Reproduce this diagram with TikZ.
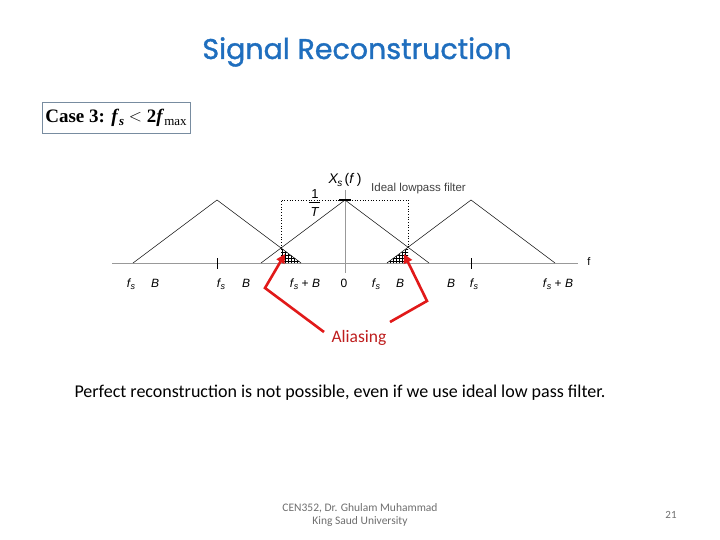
\documentclass[tikz,border=0pt]{standalone}
\usepackage{fontspec}
\setmainfont{Carlito}
\newfontfamily\titlefont{Poppins}[FakeBold=1.3]
\newfontfamily\timesfont{Liberation Serif}
\newfontfamily\helv{Liberation Sans}
\usetikzlibrary{arrows.meta,patterns}
\definecolor{titleblue}{RGB}{31,110,190}
\definecolor{aliasred}{RGB}{190,30,30}
\definecolor{arrowred}{RGB}{225,25,25}
\definecolor{boxedge}{RGB}{120,140,160}
\definecolor{footgray}{RGB}{110,110,110}
\tikzset{
  spec/.style={black, line width=0.5pt},
  axisline/.style={gray!80, line width=0.6pt},
  lab/.style={font=\helv\fontsize{12}{13}\selectfont, inner sep=0pt},
  filt/.style={black, dotted, line width=0.7pt},
  hatch/.style={pattern=grid, pattern color=black},
  redarrow/.style={arrowred, line width=2.6pt, line join=miter, -{Triangle[length=9pt,width=9pt]}},
}
\newcommand{\fsx}{\textit{f}\kern-0.5pt\raisebox{-0.35ex}{\fontsize{9}{9}\selectfont\textit{s}}}
\begin{document}
\begin{tikzpicture}[x=1pt,y=-1pt]
\useasboundingbox (0,0) rectangle (720,540);
% title
\node[font=\titlefont\fontsize{28.5}{32}\selectfont, text=titleblue] (title) at (357,52) {Signal Reconstruction};
% case box
\node[draw=boxedge, line width=0.8pt, minimum width=148pt, minimum height=31pt, inner sep=2pt, font=\timesfont\bfseries\fontsize{19}{21}\selectfont] (case) at (116,118)
  {Case 3: \textit{f}\raisebox{-0.3ex}{\fontsize{13}{13}\selectfont\textit{s}} \raisebox{0.1ex}{$<$} 2\textit{f}\raisebox{-0.35ex}{\mdseries\fontsize{13}{13}\selectfont max}};
% axes
\coordinate (ax0) at (112,263);
\coordinate (ax1) at (578,263);
\draw[axisline] (ax0) -- (ax1);
\coordinate (vy0) at (345,190);
\coordinate (vy1) at (345,273);
\draw[axisline] (vy0) -- (vy1);
\node[lab, font=\helv\fontsize{11}{12}\selectfont] (flab) at (589,262) {f};
% ticks
\coordinate (t1a) at (217,258); \coordinate (t1b) at (217,269);
\coordinate (t2a) at (471,258); \coordinate (t2b) at (471,269);
\draw[spec] (t1a) -- (t1b);
\draw[spec] (t2a) -- (t2b);
% hatched aliasing regions
\coordinate (il) at (281,248);
\coordinate (ir) at (408,248);
\fill[hatch] (il) -- (281,263) -- (301,263) -- cycle;
\fill[hatch] (ir) -- (408,263) -- (387,263) -- cycle;
% spectra
\coordinate (pL) at (217,200);
\coordinate (pC) at (345,200);
\coordinate (pR) at (471,200);
\draw[spec] (133,263) -- (pL) -- (301,263);
\draw[spec] (261,263) -- (pC) -- (429,263);
\draw[spec] (387,263) -- (pR) -- (555,263);
\draw[black, line width=1.2pt] (339,200) -- (351,200);
% ideal lowpass filter
\coordinate (fa) at (281,200);
\coordinate (fb) at (408,200);
\draw[filt] (il) -- (fa) -- (fb) -- (ir);
% labels
\node[lab, font=\helv\fontsize{14}{15}\selectfont] (xs) at (345,180) {\textit{X}\kern-1pt\raisebox{-0.35ex}{\fontsize{10}{10}\selectfont\textit{s}}\,(\textit{f}\,)};
\node[lab, font=\helv\fontsize{13}{13}\selectfont] (one) at (315,194) {1};
\node[lab, font=\helv\fontsize{13}{13}\selectfont] (tee) at (315,212) {\textit{T}};
\draw[black, line width=0.7pt] (one.south west) ++(-2,4) coordinate (barl) -- ++(11,0) coordinate (barr);
\node[lab, anchor=west, font=\helv\fontsize{11.5}{12}\selectfont, text=black!75] (ideal) at (371,189) {Ideal lowpass filter};
\node[lab] (l1) at (131,284) {\fsx};
\node[lab] (l2) at (155,283) {\textit{B}};
\node[lab] (l3) at (221,284) {\fsx};
\node[lab] (l4) at (246,283) {\textit{B}};
\node[lab] (l5) at (305,284) {\fsx\ + \textit{B}};
\node[lab] (l6) at (344,283) {0};
\node[lab] (l7) at (376,284) {\fsx};
\node[lab] (l8) at (400,283) {\textit{B}};
\node[lab] (l9) at (451,283) {\textit{B}};
\node[lab] (l10) at (474,284) {\fsx};
\node[lab] (l11) at (558,284) {\fsx\ + \textit{B}};
% aliasing arrows
\node[font=\fontsize{17.5}{19}\selectfont, text=aliasred, inner sep=1pt] (alias) at (359,338) {Aliasing};
\coordinate (aL0) at (324,332);
\coordinate (aL1) at (265,288);
\coordinate (aL2) at (285,254);
\coordinate (aR0) at (390,322);
\coordinate (aR1) at (427,301);
\coordinate (aR2) at (404,254);
\draw[redarrow] (aL0) -- (aL1) -- (aL2);
\draw[redarrow] (aR0) -- (aR1) -- (aR2);
% statement
\node[font=\fontsize{18}{20}\selectfont] (stmt) at (340,393) {Perfect reconstruction is not possible, even if we use ideal low pass filter.};
% footer
\node[font=\fontsize{11.5}{13.5}\selectfont, text=footgray, align=center, inner sep=0pt] (foot) at (360,515) {CEN352, Dr. Ghulam Muhammad\\King Saud University};
\node[font=\fontsize{11}{12}\selectfont, text=footgray] (page) at (671,515) {21};
\end{tikzpicture}
\end{document}
